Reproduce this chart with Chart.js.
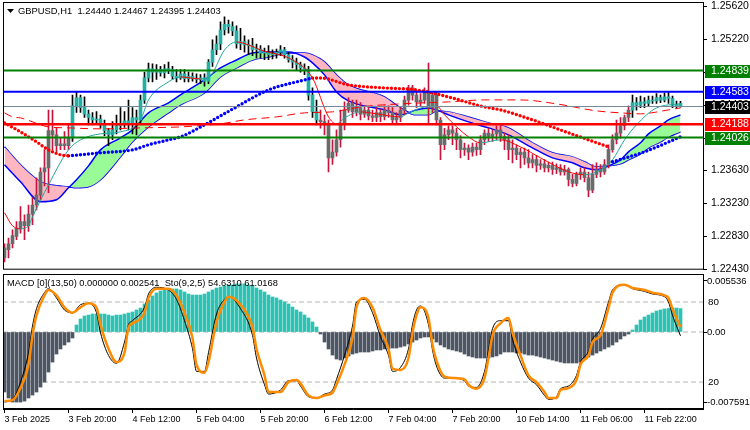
<!DOCTYPE html>
<html>
<head>
<meta charset="utf-8">
<script src="https://cdn.jsdelivr.net/npm/chart.js@4.4.1/dist/chart.umd.min.js"></script>
<style>
  html, body { margin: 0; padding: 0; background: #fff; }
  #wrap { position: relative; width: 750px; height: 430px; overflow: hidden; background: #fff; }
  #mainCanvas { position: absolute; left: 0; top: -10px; }
  #oscCanvas { position: absolute; left: 0; top: 262px; }
</style>
</head>
<body>
<div id="wrap">
  <canvas id="mainCanvas" width="750" height="290"></canvas>
  <canvas id="oscCanvas" width="750" height="168"></canvas>
</div>
<script>
// ---- GBPUSD H1 candles, 3 Feb 2025 00:00 .. 12 Feb 09:00 (bar index 0..169)
const barOpen = [
  1.2257,1.2267,1.2274,1.2283,1.2292,1.2301,1.2296,1.2310,1.2321,1.2333,
  1.2361,1.2366,1.2411,1.2406,1.2393,1.2395,1.2393,1.2402,1.2441,1.2451,
  1.2439,1.2431,1.2427,1.2424,1.2425,1.2418,1.2411,1.2406,1.2412,1.2417,
  1.2420,1.2423,1.2419,1.2427,1.2424,1.2448,1.2475,1.2486,1.2482,1.2485,
  1.2481,1.2486,1.2485,1.2477,1.2475,1.2480,1.2474,1.2477,1.2474,1.2473,
  1.2475,1.2471,1.2494,1.2509,1.2516,1.2533,1.2540,1.2537,1.2532,1.2516,
  1.2519,1.2515,1.2514,1.2509,1.2510,1.2505,1.2506,1.2503,1.2504,1.2506,
  1.2509,1.2503,1.2497,1.2494,1.2491,1.2487,1.2485,1.2454,1.2434,1.2424,
  1.2422,1.2418,1.2378,1.2385,1.2400,1.2418,1.2436,1.2444,1.2434,1.2439,
  1.2431,1.2436,1.2429,1.2427,1.2433,1.2428,1.2436,1.2433,1.2424,1.2427,
  1.2436,1.2448,1.2463,1.2454,1.2446,1.2448,1.2458,1.2439,1.2454,1.2424,
  1.2394,1.2406,1.2412,1.2408,1.2400,1.2388,1.2390,1.2385,1.2391,1.2388,
  1.2400,1.2408,1.2404,1.2407,1.2412,1.2404,1.2400,1.2388,1.2390,1.2382,
  1.2385,1.2378,1.2372,1.2376,1.2369,1.2371,1.2366,1.2369,1.2364,1.2366,
  1.2361,1.2364,1.2352,1.2347,1.2358,1.2361,1.2354,1.2339,1.2358,1.2364,
  1.2361,1.2370,1.2388,1.2400,1.2408,1.2417,1.2427,1.2436,1.2445,1.2442,
  1.2446,1.2444,1.2448,1.2447,1.2451,1.2448,1.2452,1.2450,1.2442,1.24440
];
const barHigh = [
  1.2274,1.2281,1.2291,1.2301,1.2319,1.2309,1.2321,1.2330,1.2354,1.2366,
  1.2388,1.2436,1.2436,1.2414,1.2402,1.2410,1.2418,1.2454,1.2458,1.2454,
  1.2452,1.2436,1.2433,1.2434,1.2430,1.2424,1.2414,1.2422,1.2430,1.2439,
  1.2434,1.2448,1.2439,1.2436,1.2454,1.2482,1.2493,1.2492,1.2491,1.2489,
  1.2491,1.2494,1.2489,1.2485,1.2485,1.2485,1.2482,1.2481,1.2480,1.2479,
  1.2480,1.2497,1.2521,1.2526,1.2543,1.2549,1.2545,1.2543,1.2538,1.2535,
  1.2526,1.2521,1.2523,1.2516,1.2514,1.2511,1.2514,1.2509,1.2510,1.2514,
  1.2512,1.2506,1.2502,1.2499,1.2494,1.2492,1.2489,1.2463,1.2448,1.2436,
  1.2430,1.2424,1.2400,1.2412,1.2436,1.2446,1.2451,1.2448,1.2448,1.2445,
  1.2441,1.2440,1.2436,1.2439,1.2437,1.2441,1.2441,1.2439,1.2433,1.2439,
  1.2453,1.2466,1.2466,1.2460,1.2456,1.2463,1.2493,1.2458,1.2458,1.2427,
  1.2414,1.2417,1.2417,1.2414,1.2405,1.2396,1.2394,1.2396,1.2396,1.2405,
  1.2412,1.2414,1.2412,1.2417,1.2417,1.2408,1.2406,1.2400,1.2394,1.2390,
  1.2390,1.2388,1.2382,1.2381,1.2376,1.2376,1.2373,1.2373,1.2371,1.2370,
  1.2369,1.2366,1.2358,1.2361,1.2366,1.2366,1.2361,1.2370,1.2372,1.2370,
  1.2376,1.2394,1.2406,1.2424,1.2427,1.2430,1.2441,1.2454,1.2451,1.2453,
  1.2451,1.2453,1.2453,1.2456,1.2454,1.2457,1.2458,1.2453,1.2447,1.24467
];
const barLow = [
  1.2252,1.2257,1.2269,1.2279,1.2287,1.2279,1.2289,1.2297,1.2315,1.2327,
  1.2344,1.2336,1.2388,1.2385,1.2388,1.2388,1.2388,1.2398,1.2433,1.2433,
  1.2427,1.2418,1.2418,1.2419,1.2414,1.2405,1.2393,1.2400,1.2407,1.2412,
  1.2415,1.2412,1.2407,1.2406,1.2420,1.2444,1.2470,1.2470,1.2473,1.2477,
  1.2475,1.2480,1.2473,1.2470,1.2473,1.2470,1.2470,1.2471,1.2469,1.2468,
  1.2465,1.2468,1.2489,1.2503,1.2509,1.2527,1.2529,1.2526,1.2511,1.2509,
  1.2506,1.2503,1.2502,1.2499,1.2499,1.2497,1.2497,1.2498,1.2499,1.2502,
  1.2499,1.2494,1.2487,1.2485,1.2482,1.2479,1.2448,1.2427,1.2418,1.2414,
  1.2406,1.2361,1.2370,1.2380,1.2391,1.2412,1.2433,1.2427,1.2429,1.2424,
  1.2427,1.2424,1.2422,1.2422,1.2422,1.2424,1.2427,1.2420,1.2419,1.2422,
  1.2430,1.2442,1.2448,1.2439,1.2440,1.2444,1.2420,1.2433,1.2418,1.2376,
  1.2388,1.2400,1.2394,1.2388,1.2378,1.2381,1.2376,1.2380,1.2381,1.2382,
  1.2394,1.2398,1.2398,1.2400,1.2398,1.2388,1.2376,1.2372,1.2376,1.2366,
  1.2370,1.2366,1.2366,1.2361,1.2364,1.2361,1.2361,1.2358,1.2359,1.2357,
  1.2357,1.2344,1.2343,1.2344,1.2352,1.2349,1.2331,1.2336,1.2354,1.2355,
  1.2358,1.2366,1.2385,1.2395,1.2402,1.2412,1.2422,1.2427,1.2436,1.2439,
  1.2439,1.2441,1.2444,1.2444,1.2445,1.2446,1.2444,1.2439,1.2439,1.24395
];
const barClose = [
  1.2269,1.2274,1.2284,1.2293,1.2301,1.2296,1.2310,1.2321,1.2333,1.2361,
  1.2366,1.2411,1.2406,1.2393,1.2395,1.2393,1.2402,1.2441,1.2451,1.2439,
  1.2431,1.2427,1.2424,1.2425,1.2418,1.2411,1.2406,1.2412,1.2417,1.2420,
  1.2423,1.2419,1.2427,1.2424,1.2448,1.2475,1.2486,1.2482,1.2485,1.2481,
  1.2486,1.2485,1.2477,1.2475,1.2480,1.2474,1.2477,1.2474,1.2473,1.2475,
  1.2471,1.2494,1.2509,1.2516,1.2533,1.2540,1.2537,1.2532,1.2516,1.2519,
  1.2515,1.2514,1.2509,1.2510,1.2505,1.2506,1.2503,1.2504,1.2506,1.2509,
  1.2503,1.2497,1.2494,1.2491,1.2487,1.2485,1.2454,1.2434,1.2424,1.2422,
  1.2418,1.2378,1.2385,1.2400,1.2418,1.2436,1.2444,1.2434,1.2439,1.2431,
  1.2436,1.2429,1.2427,1.2433,1.2428,1.2436,1.2433,1.2424,1.2427,1.2436,
  1.2448,1.2463,1.2454,1.2446,1.2448,1.2458,1.2439,1.2454,1.2424,1.2394,
  1.2406,1.2412,1.2408,1.2400,1.2388,1.2390,1.2385,1.2391,1.2388,1.2400,
  1.2408,1.2404,1.2407,1.2412,1.2404,1.2400,1.2388,1.2390,1.2382,1.2385,
  1.2378,1.2372,1.2376,1.2369,1.2371,1.2366,1.2369,1.2364,1.2366,1.2361,
  1.2364,1.2352,1.2347,1.2358,1.2361,1.2354,1.2339,1.2358,1.2364,1.2361,
  1.2370,1.2388,1.2400,1.2408,1.2417,1.2427,1.2436,1.2445,1.2442,1.2446,
  1.2444,1.2448,1.2447,1.2451,1.2448,1.2452,1.2450,1.2442,1.2441,1.24403
];
// bar ranges painted in the "up" candle colours
const bullRuns = [[17, 78], [157, 169]];

// ribbon (fast / slow averages)
const ribbonIdx = [0,4,9,13,16,18,21,24,29,32,36,41,44,50,54,58,62,66,71,75,
  77,80,83,86,95,99,103,106,108,111,116,121,126,132,137,142,145,148,151,154,
  156,159,161,164,166,169];
const ribbonFast = [1.23697,1.23491,1.23249,1.23273,1.23418,1.23515,1.23684,1.23878,1.24023,1.24120,
  1.24326,1.24447,1.24544,1.24725,1.24870,1.24967,1.25052,1.25064,1.25064,1.25003,
  1.24931,1.24786,1.24580,1.24471,1.24362,1.24302,1.24362,1.24386,1.24362,1.24302,
  1.24217,1.24144,1.24060,1.23902,1.23781,1.23721,1.23660,1.23636,1.23684,1.23757,
  1.23854,1.23963,1.24072,1.24168,1.24241,1.24302];
const ribbonSlow = [1.23914,1.23697,1.23491,1.23442,1.23430,1.23418,1.23430,1.23515,1.23793,1.23975,
  1.24156,1.24326,1.24423,1.24568,1.24761,1.24870,1.24967,1.25003,1.25052,1.25052,
  1.25028,1.24943,1.24786,1.24665,1.24519,1.24386,1.24302,1.24302,1.24350,1.24338,
  1.24277,1.24205,1.24144,1.23963,1.23842,1.23793,1.23733,1.23672,1.23684,1.23709,
  1.23757,1.23830,1.23902,1.23975,1.24035,1.24096];

// thin moving average (teal rising / red falling)
const maIdx = [0,2,4,6,7,11,16,19,24,29,34,36,41,44,49,51,55,58,61,64,
  72,77,81,83,85,89,93,99,101,105,108,110,116,119,124,129,134,141,145,149,
  152,155,158,163,169];
const maVal = [1.23116,1.22958,1.22922,1.22958,1.23067,1.23455,1.23878,1.23999,1.24072,1.24096,
  1.24241,1.24483,1.24701,1.24761,1.24737,1.24749,1.25088,1.25185,1.25149,1.25088,
  1.24967,1.24749,1.24277,1.24193,1.24265,1.24338,1.24314,1.24277,1.24326,1.24398,
  1.24410,1.24302,1.24035,1.23963,1.23999,1.23914,1.23781,1.23612,1.23576,1.23636,
  1.23757,1.23999,1.24181,1.24386,1.24435];

// dashed long average
const longMaIdx = [0,2,4,11,16,24,34,44,54,60,68,75,82,89,99,111,120,129,138,148,154,159,166,169];
const longMaVal = [1.24326,1.24277,1.24265,1.24156,1.24144,1.24132,1.24144,1.24156,1.24193,1.24241,
  1.24277,1.24326,1.24338,1.24398,1.24435,1.24459,1.24483,1.24483,1.24435,1.24350,
  1.24326,1.24314,1.24362,1.24386];

// dotted average, falling part (red) and rising part (blue)
const dotFallIdx = [0,4,8,11,14,16,46,77,79,86,95,103,111,120,124,132,141,146,151];
const dotFallVal = [1.24205,1.24096,1.23975,1.23878,1.23818,1.23805,null,1.24749,1.24749,1.24665,
  1.24628,1.24604,1.24519,1.24398,1.24362,1.24241,1.24084,1.23999,1.23914];
const dotRiseIdx = [16,19,24,32,36,41,44,50,58,66,75,77,120,152,160,169];
const dotRiseVal = [1.23805,1.23818,1.23842,1.23878,1.23939,1.23999,1.24035,1.24181,1.24398,1.24604,
  1.24725,1.24749,null,1.23733,1.23854,1.24035];

// horizontal levels
const levelPrices = [1.24839, 1.24583, 1.24403, 1.24188, 1.24026];
const levelColors = ['#008000', '#0000ff', '#778899', '#ff0000', '#008000'];
const levelWidths = [2, 2, 1, 2.5, 2];
const levelBoxColors = ['#008000', '#0000ff', '#000000', '#ff0000', '#008000'];

const priceTicks = [1.25620, 1.25220, 1.24820, 1.24420, 1.24020, 1.23630, 1.23230, 1.22830, 1.22430];

// MACD histogram
const macdHist = [
  -0.00651,-0.00716,-0.0076,-0.0076,-0.0076,-0.00749,-0.00716,-0.00684,-0.00651,-0.00597,
  -0.00543,-0.00434,-0.00326,-0.00239,-0.00184,-0.00141,-0.00109,-0.00065,
  0.00076,0.00141,0.00174,0.00184,0.00195,0.00195,0.00195,0.00195,0.00184,0.00174,
  0.00184,0.00184,0.00195,0.00206,0.00217,0.00239,0.0026,0.00304,0.00347,0.00391,
  0.00423,0.00445,0.00456,0.00467,0.00467,0.00467,0.00456,0.00434,0.00412,0.00401,
  0.00401,0.00401,0.00412,0.00434,0.00456,0.00477,0.00488,0.00499,0.0051,0.0051,
  0.00521,0.00521,0.00521,0.0051,0.00499,0.00477,0.00456,0.00434,0.00401,0.0038,
  0.00369,0.00347,0.00326,0.00304,0.00271,0.00239,0.00217,0.00184,0.00152,0.00109,0.00054,
  -0.00022,-0.00109,-0.00184,-0.0025,-0.00293,-0.00304,-0.00282,-0.0026,-0.00239,-0.00228,
  -0.00217,-0.00217,-0.00217,-0.00206,-0.00195,-0.00195,-0.00184,-0.00184,-0.00174,-0.00174,
  -0.00163,-0.00152,-0.0013,-0.00109,-0.00087,-0.00065,-0.00054,-0.00054,-0.00076,-0.00109,
  -0.00141,-0.00163,-0.00184,-0.00195,-0.00206,-0.00217,-0.00239,-0.0026,-0.00271,-0.00282,
  -0.00282,-0.00282,-0.00282,-0.00271,-0.0026,-0.00239,-0.00217,-0.00217,-0.00217,-0.00228,
  -0.00228,-0.00239,-0.0025,-0.0025,-0.0026,-0.00271,-0.00282,-0.00293,-0.00304,-0.00315,
  -0.00326,-0.00336,-0.00336,-0.00336,-0.00336,-0.00326,-0.00293,-0.00271,-0.0025,-0.00228,
  -0.00206,-0.00184,-0.00163,-0.00141,-0.00109,-0.00076,-0.00043,-0.00022,
  0.00022,0.00076,0.0013,0.00163,0.00184,0.00206,0.00228,0.00239,0.0025,0.00255,0.0026,0.0026,0.002541
];
const macdTicks = [0.005536, 0, -0.007591];

// stochastic (9,2,5)
const stochIdx = [0,2,4,6,7,8,10,11,13,15,17,19,21,23,24,26,28,30,31,32,
  35,36,38,41,43,45,47,48,50,51,53,55,56,59,62,63,65,66,69,71,
  73,74,76,78,80,82,83,85,87,88,90,92,94,96,97,99,101,102,103,104,
  106,107,108,110,112,115,116,118,120,121,122,124,126,127,129,131,133,135,136,138,
  139,141,143,144,146,147,149,151,152,155,157,160,162,165,166,167,169];
const stochMain = [5,7,20,42,62,75,87,90,83,74,72,78,79,72,57,40,34,50,63,66,
  76,86,91,89,82,66,45,28,28,42,71,82,84,75,55,38,18,11,14,21,
  21,17,9,8,11,14,22,40,62,80,82,72,54,40,28,31,45,63,74,77,
  63,44,32,23,23,21,17,16,28,44,60,66,66,52,35,23,18,10,7,9,
  15,17,25,35,43,52,60,80,89,93,90,88,86,84,80,70,54.631];
const stochSignal = [5.8,6.5,15.5,33,55,70,85,89,85,76,72,76,79,76,63,45,35,42,61,64,
  72,83,90,90,85,72,53,33,27,35,65,80,84,78,61,45,25,12.5,12.5,20,
  21.5,19,10,8,10,12,18,33,53,76,83,76,59,45,30,29,38,57,70,76,
  68,48,36,24,23,22,18,15,23,38,55,64,68,57,40,25,20,12.5,8,8,
  14,15.5,21.5,33,40,50,55,75.5,87,93,90.5,89,87,85,83,75,61.0168];
const stochLevels = [80, 20];

// time axis
const tickIdx = [0, 16, 32, 48, 64, 80, 96, 112, 128, 144, 160];
const tickLabels = ['3 Feb 2025', '3 Feb 20:00', '4 Feb 12:00', '5 Feb 04:00', '5 Feb 20:00',
  '6 Feb 12:00', '7 Feb 04:00', '7 Feb 20:00', '10 Feb 14:00', '11 Feb 06:00', '11 Feb 22:00'];

// ---------------------------------------------------------------
const X_MIN = -0.375, X_MAX = 174.625;
const FONT = '"Liberation Sans", Arial, sans-serif';
Chart.defaults.font.family = FONT;
Chart.defaults.color = '#000';
Chart.defaults.animation = false;

const pts = (idx, vals) => idx.map((x, k) => ({ x: x, y: vals[k] }));
const flat = (v) => [{ x: X_MIN, y: v }, { x: X_MAX, y: v }];
const isBull = (i) => bullRuns.some(r => i >= r[0] && i <= r[1]);
const last = barClose.length - 1;

const titleText = 'GBPUSD,H1  ' + barOpen[last].toFixed(5) + ' ' + barHigh[last].toFixed(5) + ' ' +
  barLow[last].toFixed(5) + ' ' + barClose[last].toFixed(5);
const oscText = 'MACD [0](13,50) 0.000000 ' + macdHist[macdHist.length - 1].toFixed(6) +
  '  Sto(9,2,5) ' + stochMain[stochMain.length - 1].toFixed(4) + ' ' + stochSignal[stochSignal.length - 1].toFixed(4);

function lineDs(data, color, width, order, extra) {
  return Object.assign({
    type: 'line', data: data, borderColor: color, borderWidth: width,
    pointRadius: 0, fill: false, cubicInterpolationMode: 'monotone', order: order
  }, extra || {});
}

const mainDecor = {
  id: 'mainDecor',
  afterDraw(chart) {
    const { ctx, chartArea: a, scales } = chart;
    ctx.save();
    ctx.strokeStyle = '#000';
    ctx.lineWidth = 1;
    ctx.strokeRect(a.left + 0.5, a.top + 0.5, a.right - a.left, a.bottom - a.top - 1);
    // title
    ctx.fillStyle = '#000';
    ctx.beginPath();
    ctx.moveTo(7, a.top + 7); ctx.lineTo(14, a.top + 7); ctx.lineTo(10.5, a.top + 11);
    ctx.closePath(); ctx.fill();
    ctx.font = '9.4px ' + FONT;
    ctx.textBaseline = 'middle';
    ctx.textAlign = 'left';
    ctx.fillText(titleText, 18, a.top + 9);
    // level price boxes on the axis
    ctx.font = '10.5px ' + FONT;
    levelPrices.forEach((v, k) => {
      const y = Math.round(scales.y.getPixelForValue(v));
      ctx.fillStyle = levelBoxColors[k];
      ctx.fillRect(a.right + 2, y - 6, 45, 13);
      ctx.fillStyle = '#fff';
      ctx.fillText(v.toFixed(5), a.right + 8, y + 0.5);
    });
    ctx.restore();
  }
};

const oscDecor = {
  id: 'oscDecor',
  afterDraw(chart) {
    const { ctx, chartArea: a, scales } = chart;
    ctx.save();
    ctx.strokeStyle = '#000';
    ctx.lineWidth = 1;
    ctx.strokeRect(a.left + 0.5, a.top + 0.5, a.right - a.left, a.bottom - a.top - 1);
    ctx.fillStyle = '#000';
    ctx.font = '9.3px ' + FONT;
    ctx.textBaseline = 'middle';
    ctx.textAlign = 'left';
    ctx.fillText(oscText, 7, a.top + 9);
    ctx.font = '9.8px ' + FONT;
    stochLevels.forEach(v => {
      ctx.fillText(String(v), a.right + 5, scales.yStoch.getPixelForValue(v));
    });
    ctx.restore();
  }
};

// ---- price panel
const mainDatasets = [
  lineDs(pts(ribbonIdx, ribbonFast), '#0000ff', 1.5, 10,
    { fill: { target: 1, above: '#98fb98', below: '#ffb6c1' } }),
  lineDs(pts(ribbonIdx, ribbonSlow), '#0000ff', 1.5, 10),
  {
    type: 'bar',
    data: barLow.map((l, i) => ({ x: i, y: [l, barHigh[i]] })),
    backgroundColor: (c) => isBull(c.dataIndex) ? '#000000' : '#c8143c',
    barThickness: 1, grouped: false, borderWidth: 0, order: 8
  },
  {
    type: 'bar',
    data: barOpen.map((o, i) => ({ x: i, y: [o, barClose[i]] })),
    backgroundColor: (c) => isBull(c.dataIndex) ? '#22b0a4' : '#6b6b6b',
    barThickness: 3, minBarLength: 1, grouped: false, borderWidth: 0, order: 7
  },
  lineDs(pts(maIdx, maVal), '#ff0000', 1, 4, {
    segment: { borderColor: (c) => c.p1.parsed.y >= c.p0.parsed.y ? '#20a89c' : '#ff0000' }
  }),
  lineDs(pts(longMaIdx, longMaVal), '#ff0000', 1, 4, { borderDash: [8, 5] }),
  lineDs(pts(dotFallIdx, dotFallVal), '#ff0000', 3.4, 3,
    { borderDash: [0, 4], borderCapStyle: 'round', spanGaps: false }),
  lineDs(pts(dotRiseIdx, dotRiseVal), '#0000ff', 3.4, 3,
    { borderDash: [0, 4], borderCapStyle: 'round', spanGaps: false })
];
levelPrices.forEach((v, k) => {
  mainDatasets.push(lineDs(flat(v), levelColors[k], levelWidths[k], 1, { cubicInterpolationMode: 'default' }));
});

new Chart(document.getElementById('mainCanvas'), {
  type: 'bar',
  data: { datasets: mainDatasets },
  options: {
    responsive: false,
    events: [],
    layout: { padding: { left: 3, top: 12, right: 0, bottom: 10 } },
    plugins: { legend: { display: false }, tooltip: { enabled: false } },
    scales: {
      x: { type: 'linear', min: X_MIN, max: X_MAX, display: false, offset: false, grid: { offset: false } },
      y: {
        type: 'linear', position: 'right', min: 1.22426, max: 1.25669, beginAtZero: false,
        afterFit: (s) => { s.width = 47; },
        afterBuildTicks: (s) => { s.ticks = priceTicks.map(v => ({ value: v })); },
        grid: { display: true, drawOnChartArea: false, drawTicks: true, tickLength: 4, color: '#000' },
        border: { display: true, color: '#000', width: 1 },
        ticks: { font: { size: 10.5 }, color: '#000', padding: 4, callback: (v) => Number(v).toFixed(5) }
      }
    }
  },
  plugins: [mainDecor]
});

// ---- MACD / stochastic panel
const oscDatasets = [
  lineDs(flat(stochLevels[0]), '#b4b4b4', 1, 10, { yAxisID: 'yStoch', borderDash: [5, 3] }),
  lineDs(flat(stochLevels[1]), '#b4b4b4', 1, 10, { yAxisID: 'yStoch', borderDash: [5, 3] }),
  lineDs(flat(0), '#b4b4b4', 1, 10, { yAxisID: 'yMacd', borderDash: [5, 3] }),
  {
    type: 'bar', yAxisID: 'yMacd',
    data: macdHist.map((v, i) => ({ x: i, y: v })),
    backgroundColor: (c) => (c.raw && c.raw.y >= 0) ? '#2cc2b4' : '#4e5664',
    barThickness: 3, grouped: false, borderWidth: 0, order: 6
  },
  lineDs(pts(stochIdx, stochMain), '#000000', 1, 2, { yAxisID: 'yStoch' }),
  lineDs(pts(stochIdx, stochSignal), '#ff8c00', 2.5, 1, { yAxisID: 'yStoch' })
];

new Chart(document.getElementById('oscCanvas'), {
  type: 'bar',
  data: { datasets: oscDatasets },
  options: {
    responsive: false,
    events: [],
    layout: { padding: { left: 3, top: 12, right: 0, bottom: 0 } },
    plugins: { legend: { display: false }, tooltip: { enabled: false } },
    scales: {
      x: {
        type: 'linear', min: X_MIN, max: X_MAX, offset: false, position: 'bottom',
        afterFit: (s) => { s.height = 21; },
        afterBuildTicks: (s) => { s.ticks = tickIdx.map(v => ({ value: v })); },
        grid: { display: true, drawOnChartArea: false, drawTicks: true, tickLength: 4, color: '#000', offset: false },
        border: { display: true, color: '#000' },
        ticks: {
          font: { size: 9 }, color: '#000', padding: 1, align: 'start',
          maxRotation: 0, autoSkip: false,
          callback: (v) => { const k = tickIdx.indexOf(v); return k >= 0 ? tickLabels[k] : ''; }
        }
      },
      yMacd: {
        type: 'linear', position: 'right', min: -0.00835, max: 0.00629, beginAtZero: false,
        afterFit: (s) => { s.width = 47; },
        afterBuildTicks: (s) => { s.ticks = macdTicks.map(v => ({ value: v })); },
        grid: { display: true, drawOnChartArea: false, drawTicks: true, tickLength: 4, color: '#000' },
        border: { display: true, color: '#000' },
        ticks: { font: { size: 9.5 }, color: '#000', padding: 0,
          callback: (v) => v === 0 ? '0.00' : Number(v).toFixed(6) }
      },
      yStoch: { type: 'linear', display: false, min: -0.2, max: 101 }
    }
  },
  plugins: [oscDecor]
});
</script>
</body>
</html>
